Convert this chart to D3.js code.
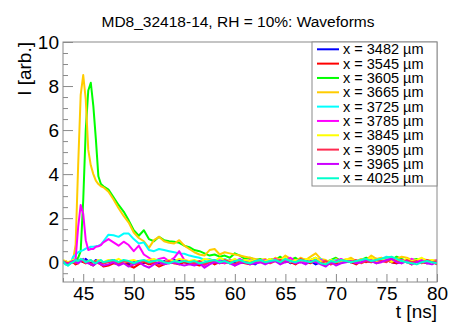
<!DOCTYPE html>
<html>
<head>
<meta charset="utf-8">
<script src="https://cdn.jsdelivr.net/npm/d3@7"></script>
<style>
  body { margin: 0; background: #fff; }
  svg { font-family: "Liberation Sans", Arial, sans-serif; }
</style>
</head>
<body>
<svg width="450" height="322"></svg>
<script>
// sampling times [ns]
const times = [
  43, 43.25, 43.5, 43.75, 44, 44.25, 44.5, 44.75, 45, 45.25, 45.5, 45.75, 46, 46.25, 46.5, 46.75, 47,
  47.5, 48, 48.5, 49, 49.5, 50, 50.5, 51, 51.5, 52, 52.5, 53, 53.5, 54, 54.5, 55,
  55.5, 56, 56.5, 57, 57.5, 58, 58.5, 59, 59.5, 60, 60.5, 61, 61.5, 62, 62.5, 63,
  63.5, 64, 64.5, 65, 65.5, 66, 66.5, 67, 67.5, 68, 68.5, 69, 69.5, 70, 70.5, 71,
  71.5, 72, 72.5, 73, 73.5, 74, 74.5, 75, 75.5, 76, 76.5, 77, 77.5, 78, 78.5, 79, 79.5, 80
];

const s3482 = [
  0.05, 0.0, -0.05, 0.0, 0.05, 0.0, 0.1, 0.05, 0.0, 0.15, 0.05, -0.05, 0.0, 0.1, 0.05, 0.0, -0.05,
  0.05, 0.1, 0.0, 0.05, -0.1, 0.0, 0.05, -0.05, 0.1, 0.0, -0.05, 0.05, 0.0, 0.1, 0.05, 0.0,
  -0.05, 0.05, 0.0, -0.1, 0.05, 0.0, 0.1, 0.05, -0.05, 0.0, 0.1, 0.05, 0.0, -0.1, 0.05, 0.0,
  0.1, 0.05, 0.0, 0.1, -0.05, 0.05, 0.0, 0.1, 0.05, -0.1, 0.0, 0.05, -0.05, 0.0, 0.1, 0.05,
  0.0, -0.05, 0.1, 0.05, 0.0, 0.15, 0.05, 0.1, 0.0, -0.05, 0.05, 0.1, 0.0, 0.05, 0.1, -0.05, 0.05, 0.0
];
const s3545 = [
  0.0, -0.05, -0.1, -0.05, 0.0, -0.1, -0.05, 0.1, 0.0, -0.05, 0.05, -0.1, -0.15, -0.05, 0.0, -0.1, -0.2,
  -0.15, -0.05, -0.1, 0.0, -0.15, -0.25, -0.1, 0.0, -0.1, -0.05, -0.2, -0.1, 0.0, -0.05, -0.1, 0.0,
  -0.05, -0.1, -0.15, -0.05, 0.05, -0.1, 0.0, -0.05, 0.05, -0.15, 0.0, -0.05, -0.1, 0.0, 0.05, -0.05,
  0.0, 0.1, -0.05, 0.05, 0.0, -0.1, 0.05, 0.0, -0.05, 0.1, 0.0, -0.15, 0.05, -0.05, 0.0, 0.05,
  0.0, -0.1, 0.05, 0.0, 0.1, -0.05, 0.05, 0.1, 0.0, -0.05, 0.05, 0.0, -0.1, 0.05, 0.0, -0.05, 0.05, -0.1
];
const s3605 = [
  0.0, 0.05, -0.05, 0.0, 0.05, 0.1, 0.2, 0.5, 2.8, 6.0, 7.8, 8.15, 7.1, 5.6, 3.9, 3.55, 3.45,
  3.3, 2.95, 2.6, 2.3, 1.9, 1.45, 1.2, 1.45, 1.05, 0.95, 1.15, 1.0, 0.95, 0.93, 0.88, 0.75,
  0.68, 0.55, 0.5, 0.4, 0.3, 0.35, 0.25, 0.3, 0.2, 0.4, 0.3, 0.15, 0.2, 0.1, 0.15, 0.05,
  0.15, 0.1, 0.25, 0.05, 0.1, 0.2, 0.05, 0.15, 0.1, 0.2, 0.05, 0.0, 0.1, 0.2, 0.05, 0.1,
  0.15, 0.0, 0.1, 0.2, 0.1, 0.05, 0.15, 0.2, 0.1, 0.25, 0.15, 0.05, 0.1, 0.15, 0.05, 0.1, 0.0, 0.05
];
const s3665 = [
  0.05, 0.0, -0.05, 0.0, 0.1, 0.8, 4.4, 7.6, 8.5, 7.4, 5.1, 4.4, 4.0, 3.7, 3.55, 3.45, 3.4,
  3.2, 2.85, 2.45, 2.1, 1.8, 1.35, 1.1, 0.95, 0.65, 1.0, 1.15, 0.95, 0.88, 0.85, 1.0, 0.75,
  0.6, 0.45, 0.35, 0.3, 0.55, 0.6, 0.35, 0.45, 0.4, 0.35, 0.3, 0.25, 0.2, 0.15, 0.1, 0.15,
  0.0, 0.2, 0.1, 0.3, 0.15, 0.05, 0.2, 0.1, 0.25, 0.4, 0.15, 0.1, -0.05, 0.15, 0.0, 0.1,
  0.2, 0.05, 0.15, 0.1, 0.3, 0.15, 0.2, 0.1, 0.0, 0.15, 0.25, 0.2, 0.1, 0.05, 0.15, 0.1, 0.05, 0.0
];
const s3725 = [
  0.0, -0.1, -0.15, -0.05, 0.25, 0.35, 0.45, 0.5, 0.55, 0.62, 0.65, 0.7, 0.7, 0.72, 0.75, 0.8, 0.95,
  1.25, 1.22, 1.15, 1.3, 1.3, 1.05, 0.85, 0.9, 0.55, 0.5, 0.6, 0.55, 0.5, 0.45, 0.4, 0.38,
  0.3, 0.25, 0.2, 0.1, 0.15, 0.05, 0.1, 0.15, 0.05, 0.1, 0.0, 0.1, 0.05, -0.05, 0.1, 0.05,
  0.0, 0.1, 0.05, 0.15, 0.0, 0.1, 0.05, -0.05, 0.1, 0.0, 0.15, -0.1, 0.05, 0.1, 0.0, 0.1,
  0.05, 0.0, 0.1, 0.15, 0.05, 0.1, 0.15, 0.25, 0.2, 0.1, 0.05, 0.0, -0.05, 0.05, 0.1, 0.0, 0.05, -0.05
];
const s3785 = [
  0.0, 0.05, -0.05, 0.0, 0.05, 0.15, 1.6, 2.6, 2.2, 1.0, 0.55, 0.6, 0.6, 0.7, 0.72, 0.78, 0.9,
  1.05, 0.9, 0.75, 0.93, 0.78, 0.5, 0.75, 0.35, 0.2, 0.05, 0.15, 0.2, 0.05, 0.2, 0.5, 0.1,
  0.0, -0.1, 0.05, -0.15, 0.0, 0.1, 0.05, -0.05, 0.1, 0.05, 0.15, 0.0, 0.1, -0.05, 0.0, 0.1,
  0.05, 0.15, 0.0, 0.1, 0.2, 0.05, 0.1, -0.05, 0.05, 0.15, 0.1, 0.0, -0.1, 0.05, 0.15, 0.05,
  0.1, 0.0, 0.05, 0.15, 0.1, 0.0, 0.1, 0.2, 0.15, 0.05, 0.1, 0.0, 0.15, 0.05, 0.1, 0.0, 0.05, 0.1
];
const s3845 = [
  0.1, 0.05, 0.0, 0.05, 0.1, 0.0, 0.05, 0.15, 0.1, 0.0, 0.05, 0.1, 0.0, 0.05, 0.1, 0.05, 0.0,
  0.1, 0.05, 0.15, 0.0, 0.05, 0.1, 0.0, 0.05, 0.1, 0.15, 0.05, 0.0, 0.1, 0.05, 0.15, 0.1,
  0.05, 0.1, 0.0, 0.15, 0.1, 0.05, 0.2, 0.1, 0.05, 0.15, 0.0, 0.1, 0.05, 0.1, 0.0, 0.05,
  0.15, 0.05, 0.1, 0.2, 0.0, 0.1, 0.05, 0.15, 0.1, 0.2, 0.05, -0.05, 0.1, 0.0, 0.05, 0.15,
  0.1, 0.05, 0.0, 0.1, 0.2, 0.05, 0.1, 0.15, 0.05, 0.1, 0.0, 0.15, 0.05, 0.1, 0.2, 0.05, 0.1, 0.05
];
const s3905 = [
  0.05, 0.0, -0.05, 0.0, 0.05, -0.05, 0.0, 0.1, 0.05, -0.05, 0.0, -0.1, 0.0, 0.05, -0.05, -0.1, -0.05,
  0.0, 0.05, -0.1, 0.05, 0.0, -0.1, -0.05, 0.05, -0.05, 0.0, -0.15, 0.0, 0.05, -0.05, 0.0, 0.05,
  0.0, -0.05, 0.05, -0.1, 0.0, 0.05, -0.05, 0.1, 0.0, -0.1, 0.05, 0.0, -0.05, 0.05, 0.1, 0.0,
  -0.05, 0.05, 0.1, 0.0, 0.05, -0.05, 0.15, 0.05, 0.0, 0.1, -0.05, 0.05, -0.1, 0.0, 0.1, 0.05,
  0.0, 0.1, -0.05, 0.05, 0.0, 0.1, 0.05, 0.0, 0.15, 0.05, -0.05, 0.1, 0.0, 0.05, -0.05, 0.1, 0.0, 0.05
];
const s3965 = [
  0.0, -0.05, -0.1, 0.0, 0.05, 0.0, -0.05, 0.05, 0.15, 0.0, -0.05, -0.1, -0.15, -0.05, 0.0, -0.1, -0.15,
  -0.1, 0.0, -0.15, -0.05, -0.2, -0.1, 0.0, -0.15, -0.25, -0.1, 0.0, -0.1, -0.05, 0.0, -0.1, -0.15,
  -0.1, -0.15, -0.05, -0.25, -0.1, 0.0, -0.05, 0.05, -0.05, -0.15, -0.05, 0.0, -0.1, -0.05, 0.0, -0.1,
  0.0, 0.05, -0.1, 0.0, 0.05, -0.05, 0.0, -0.1, 0.05, 0.0, -0.1, -0.2, 0.0, -0.15, -0.05, 0.0,
  0.05, -0.05, 0.0, 0.1, 0.05, -0.05, 0.0, 0.1, 0.15, 0.0, -0.05, 0.05, -0.1, 0.0, 0.05, -0.05, -0.1, 0.0
];
const s4025 = [
  0.05, -0.1, -0.15, -0.05, 0.0, 0.1, 0.05, 0.15, 0.1, 0.0, 0.05, 0.1, 0.0, -0.05, 0.05, 0.1, 0.0,
  0.05, 0.1, 0.0, 0.1, 0.05, -0.05, 0.05, 0.1, 0.0, 0.05, 0.1, 0.0, -0.05, 0.05, 0.0, 0.05,
  0.0, 0.05, -0.05, 0.0, 0.05, 0.1, 0.0, 0.05, -0.05, 0.05, 0.1, 0.0, -0.05, 0.05, 0.1, 0.0,
  0.05, 0.1, 0.0, 0.15, 0.05, 0.0, 0.1, 0.05, 0.0, 0.1, -0.05, -0.1, 0.05, 0.0, 0.1, 0.05,
  0.0, 0.05, 0.1, 0.15, 0.05, 0.1, 0.15, 0.2, 0.25, 0.15, 0.05, 0.0, -0.05, -0.1, 0.0, 0.05, 0.0, -0.05
];

const positions = [3482, 3545, 3605, 3665, 3725, 3785, 3845, 3905, 3965, 4025];
const seriesValues = [s3482, s3545, s3605, s3665, s3725, s3785, s3845, s3905, s3965, s4025];
const colors = ['#0000ff', '#ff0000', '#00ff00', '#ffcc00', '#00ffff',
                '#ff00ff', '#ffff00', '#ff2a50', '#cc00ff', '#00ffcc'];

const xMajor = [45, 50, 55, 60, 65, 70, 75, 80];
const yMajor = [0, 2, 4, 6, 8, 10];

const svg = d3.select("svg");
const width = +svg.attr("width");
const height = +svg.attr("height");
const margin = { top: 42, right: 13, bottom: 40, left: 63 };
const innerWidth = width - margin.left - margin.right;
const innerHeight = height - margin.top - margin.bottom;
const frameColor = '#8a8a8a';

const xScale = d3.scaleLinear().domain([43, 80]).range([0, innerWidth]);
const yScale = d3.scaleLinear().domain([-0.9, 10]).range([innerHeight, 0]);

// title
svg.append('text')
    .attr('x', 238)
    .attr('y', 27)
    .attr('text-anchor', 'middle')
    .attr('font-size', 15.5)
    .attr('fill', '#000')
    .text('MD8_32418-14, RH = 10%: Waveforms');

const g = svg.append('g')
    .attr('transform', `translate(${margin.left}, ${margin.top})`);

g.append('clipPath').attr('id', 'clip')
  .append('rect').attr('width', innerWidth).attr('height', innerHeight);

// minor ticks
const xMinor = d3.range(43, 80.5, 1).filter(v => !xMajor.includes(v));
const yMinor = d3.range(-0.5, 10, 0.5).filter(v => !yMajor.includes(v));

const xMinorG = g.append('g').attr('transform', `translate(0, ${innerHeight})`)
    .call(d3.axisBottom(xScale).tickValues(xMinor).tickSize(-4).tickSizeOuter(0).tickFormat(''));
const yMinorG = g.append('g')
    .call(d3.axisLeft(yScale).tickValues(yMinor).tickSize(-5).tickSizeOuter(0).tickFormat(''));

const xAxisG = g.append('g').attr('transform', `translate(0, ${innerHeight})`)
    .call(d3.axisBottom(xScale).tickValues(xMajor).tickSize(-8).tickSizeOuter(0).tickPadding(5));
const yAxisG = g.append('g')
    .call(d3.axisLeft(yScale).tickValues(yMajor).tickSize(-10).tickSizeOuter(0).tickPadding(4));

[xMinorG, yMinorG, xAxisG, yAxisG].forEach(a => {
    a.selectAll('.domain').remove();
    a.selectAll('.tick line').attr('stroke', frameColor);
    a.attr('font-family', null).attr('font-size', 19);
    a.selectAll('.tick text').attr('fill', '#000');
});

// waveforms
const line = d3.line()
    .defined(d => d[1] !== undefined)
    .x(d => xScale(d[0]))
    .y(d => yScale(d[1]));

g.append('g').attr('clip-path', 'url(#clip)')
  .selectAll('path').data(seriesValues)
  .enter().append('path')
    .attr('d', vals => line(times.map((t, i) => [t, vals[i]])))
    .attr('fill', 'none')
    .attr('stroke', (d, i) => colors[i])
    .attr('stroke-width', 2)
    .attr('stroke-linejoin', 'round');

// frame
g.append('rect')
    .attr('width', innerWidth)
    .attr('height', innerHeight)
    .attr('fill', 'none')
    .attr('stroke', frameColor);

// axis titles
g.append('text')
    .attr('x', innerWidth)
    .attr('y', innerHeight + 36)
    .attr('text-anchor', 'end')
    .attr('font-size', 19)
    .text('t [ns]');

g.append('text')
    .attr('transform', 'rotate(-90)')
    .attr('x', 0)
    .attr('y', -32)
    .attr('text-anchor', 'end')
    .attr('font-size', 19)
    .text('I [arb.]');

// legend
const legend = g.append('g').attr('transform', `translate(${innerWidth - 125}, 0)`);
legend.append('rect')
    .attr('width', 125)
    .attr('height', 144)
    .attr('fill', '#fff')
    .attr('stroke', frameColor);

const rows = legend.selectAll('.row').data(positions)
  .enter().append('g')
    .attr('class', 'row')
    .attr('transform', (d, i) => `translate(0, ${7.3 + i * 14.33})`);

rows.append('line')
    .attr('x1', 5).attr('x2', 27)
    .attr('stroke', (d, i) => colors[i])
    .attr('stroke-width', 2);

rows.append('text')
    .attr('x', 31)
    .attr('y', 5)
    .attr('font-size', 14.5)
    .text(d => `x = ${d} µm`);
</script>
</body>
</html>
